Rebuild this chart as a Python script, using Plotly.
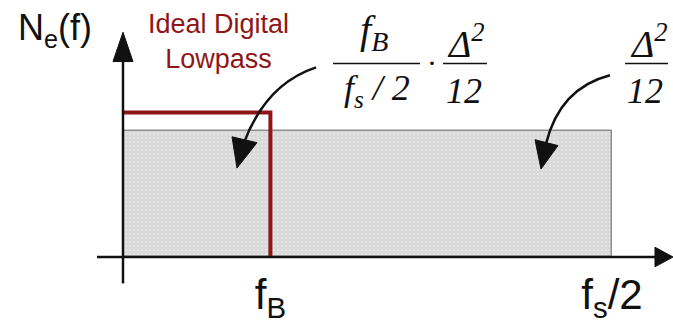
import plotly.graph_objects as go

# Frequency axis normalised to fs/2, noise PSD normalised to Δ²/12
band_edges = [0.0, 1.0]            # 0 .. fs/2
noise_level = [1.0]                # flat quantisation noise Δ²/12
f_B = 0.30                         # lowpass cut-off as a fraction of fs/2
lowpass_gain = 1.147               # drawn height of the ideal lowpass
lowpass_x = [-0.004, f_B, f_B]
lowpass_y = [lowpass_gain, lowpass_gain, 0.0]
tick_positions = [f_B, 1.0]
tick_labels = ["f<sub>B</sub>", "f<sub>s</sub>/2"]

W, H = 673, 324
AXIS_Y = 263                       # pixel row of the frequency axis
X_RANGE = [-124 / 488, (W - 124) / 488]
Y_RANGE = [0.0, AXIS_Y / 129]

SANS = "Liberation Sans, Arial, sans-serif"
SERIF = "Liberation Serif, Times New Roman, serif"
RED = "#8e1616"
INK = "#111111"


def pp(x, y):
    """pixel position -> paper coordinates of the plot area"""
    return x / W, (AXIS_Y - y) / AXIS_Y


def pt(p):
    a, b = pp(*p)
    return f"{a:.5f},{b:.5f}"


def polyline(points, close=False):
    s = "M " + pt(points[0])
    for p in points[1:]:
        s += " L " + pt(p)
    return s + (" Z" if close else "")


def curve(p0, c, p1):
    return f"M {pt(p0)} Q {pt(c)} {pt(p1)}"


fig = go.Figure()

# quantisation noise floor (dotted grey block)
fig.add_trace(go.Bar(
    x=[(band_edges[0] + band_edges[1]) / 2],
    y=noise_level,
    width=[band_edges[1] - band_edges[0]],
    base=0,
    marker=dict(
        color="#d8d8d8",
        line=dict(color="#8f8f8f", width=1.5),
        pattern=dict(shape=".", fgcolor="#f2f2f2", bgcolor="#d8d8d8",
                     size=4, solidity=0.3, fillmode="overlay"),
    ),
    hoverinfo="skip",
    showlegend=False,
))

# ideal digital lowpass
fig.add_trace(go.Scatter(
    x=lowpass_x, y=lowpass_y, mode="lines",
    line=dict(color=RED, width=4),
    hoverinfo="skip", showlegend=False,
))

shapes = []


def stroke(p, width=2.5):
    shapes.append(dict(type="path", xref="paper", yref="paper", path=p,
                       line=dict(color=INK, width=width)))


def fill(p):
    shapes.append(dict(type="path", xref="paper", yref="paper", path=p,
                       fillcolor=INK, line=dict(color=INK, width=1)))


# frequency axis with arrow
stroke(polyline([(97, AXIS_Y), (657, AXIS_Y)]))
fill(polyline([(673, AXIS_Y), (655, 253), (655, 273)], close=True))
# PSD axis with arrow
stroke(polyline([(123, 290), (123, 60)]))
fill(polyline([(123, 33), (113, 63), (133, 63)], close=True))

# curved pointers from the formulas into the noise block
stroke(curve((316, 69), (266, 86), (244, 146)))
fill(polyline([(237, 172), (232, 140), (257, 146)], close=True))
stroke(curve((610, 77), (560, 90), (546, 147)))
fill(polyline([(541, 173), (535, 143), (558, 149)], close=True))

# fraction bars
for x0, x1 in [(333, 420), (443, 487), (625, 668)]:
    stroke(polyline([(x0, 65), (x1, 65)]), width=1.5)

annotations = []


def label(text, x, y, size, family, color=INK, xanchor="center", yanchor="middle"):
    px, py = pp(x, y)
    annotations.append(dict(text=text, x=px, y=py, xref="paper", yref="paper",
                            showarrow=False, xanchor=xanchor, yanchor=yanchor,
                            font=dict(family=family, size=size, color=color)))


label("N<sub>e</sub>(f)", 16, 31, 36, SANS, xanchor="left")
label("Ideal Digital<br>Lowpass", 218, 42, 27, SANS, color=RED)

label("<i>f<sub>B</sub></i>", 374, 33, 40, SERIF)
label("<i>f<sub>s</sub> / 2</i>", 377, 93, 36, SERIF)
label("·", 432, 64, 30, SERIF)
label("<i>Δ<sup>2</sup></i>", 466, 42, 38, SERIF)
label("<i>12</i>", 464, 93, 36, SERIF)
label("<i>Δ<sup>2</sup></i>", 649, 42, 38, SERIF)
label("<i>12</i>", 645, 93, 36, SERIF)

fig.update_layout(
    width=W, height=H,
    margin=dict(l=0, r=0, t=0, b=H - AXIS_Y),
    paper_bgcolor="white", plot_bgcolor="white",
    shapes=shapes, annotations=annotations,
    xaxis=dict(range=X_RANGE, showgrid=False, zeroline=False, showline=False,
               tickvals=tick_positions, ticktext=tick_labels, ticks="",
               ticklabelstandoff=9,
               tickfont=dict(family=SANS, size=42, color=INK), fixedrange=True),
    yaxis=dict(range=Y_RANGE, showgrid=False, zeroline=False, showline=False,
               showticklabels=False, fixedrange=True),
    bargap=0,
)

fig.write_html("out.html")
